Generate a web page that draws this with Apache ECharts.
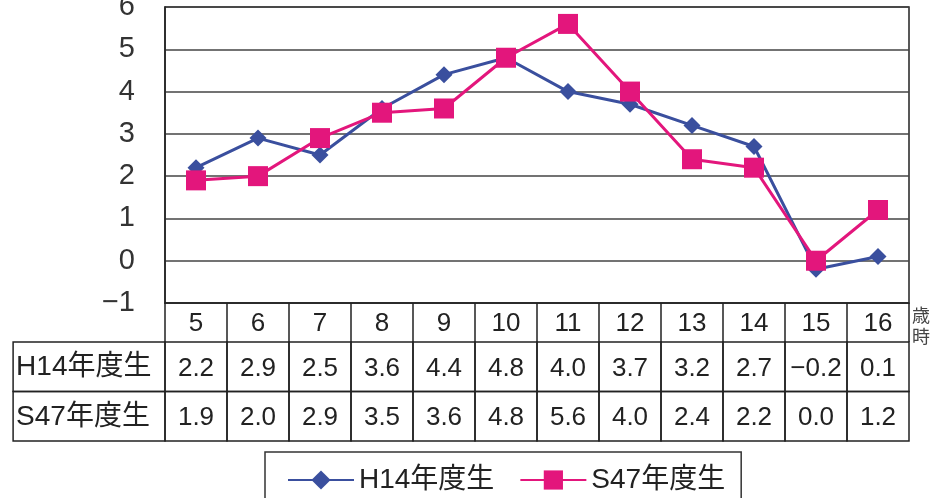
<!DOCTYPE html>
<html>
<head>
<meta charset="utf-8">
<script src="https://cdn.jsdelivr.net/npm/echarts@6/dist/echarts.min.js"></script>
<style>html,body{margin:0;padding:0;background:#fff;}#c{width:930px;height:498px;}</style>
</head>
<body>
<div id="c"></div>
<script>
// ---- data ----
var categories = ['5','6','7','8','9','10','11','12','13','14','15','16'];
var seriesNames = ['H14年度生','S47年度生'];
var h14 = [2.2, 2.9, 2.5, 3.6, 4.4, 4.8, 4.0, 3.7, 3.2, 2.7, -0.2, 0.1];
var s47 = [1.9, 2.0, 2.9, 3.5, 3.6, 4.8, 5.6, 4.0, 2.4, 2.2, 0.0, 1.2];
var yTicks = [-1, 0, 1, 2, 3, 4, 5, 6];
var unitLabel = '歳\n時';

// ---- style ----
var FONT = "'Liberation Sans', Arial, 'Noto Sans CJK JP', sans-serif";
var BLUE = '#3a4f9e';
var PINK = '#e3167c';
var INK = '#222';
var HEAD_COLS = 2.45; // width of row-header column relative to a data column

function fmt(v) { return v.toFixed(1).replace('-', '−'); }

var tableData = [];
[h14, s47].forEach(function (arr, r) {
  arr.forEach(function (v, i) { tableData.push([i, r, v]); });
});

var chart = echarts.init(document.getElementById('c'), null, {renderer: 'canvas'});
chart.setOption({
  animation: false,
  backgroundColor: '#fff',
  textStyle: {fontFamily: FONT},
  grid: [
    {left: 165, right: 21, top: 7, bottom: 195, outerBoundsMode: 'none', containLabel: false,
     show: true, borderColor: INK, borderWidth: 1.5, backgroundColor: 'transparent'},
    {left: 165, right: 21, top: 342, height: 99, outerBoundsMode: 'none', containLabel: false}
  ],
  xAxis: [
    {
      type: 'category', gridIndex: 0, data: categories, boundaryGap: true,
      position: 'bottom',
      axisLine: {onZero: false, lineStyle: {color: INK, width: 1.5}},
      axisTick: {show: true, length: 39, lineStyle: {color: INK, width: 1.5}},
      axisLabel: {fontSize: 26, color: INK, margin: 8, fontFamily: FONT},
      splitLine: {show: false},
      name: unitLabel, nameLocation: 'end', nameGap: 3,
      nameTextStyle: {fontSize: 18, lineHeight: 21, color: '#444', align: 'left', verticalAlign: 'top', padding: [2, 0, 0, 0], fontFamily: "'Noto Sans CJK JP', sans-serif"}
    },
    {
      type: 'category', gridIndex: 1, data: categories, boundaryGap: true,
      axisLine: {show: false}, axisTick: {show: false}, axisLabel: {show: false}, splitLine: {show: false}
    }
  ],
  yAxis: [
    {
      type: 'value', gridIndex: 0, min: yTicks[0], max: yTicks[yTicks.length - 1], interval: 1,
      axisLine: {show: true, lineStyle: {color: INK, width: 1.5}},
      axisTick: {show: false},
      axisLabel: {fontSize: 29, color: '#333', margin: 30, fontFamily: FONT,
        formatter: function (v) { return String(v).replace('-', '−'); }},
      splitLine: {show: true, lineStyle: {color: '#444', width: 1.5}}
    },
    {
      type: 'category', gridIndex: 1, data: seriesNames, inverse: true,
      axisLine: {show: false}, axisTick: {show: false}, axisLabel: {show: false}, splitLine: {show: false}
    }
  ],
  legend: {
    data: seriesNames,
    left: 265, top: 452,
    padding: [14, 16, 14, 22],
    itemWidth: 66, itemHeight: 24, itemGap: 25,
    borderColor: '#333', borderWidth: 1.5,
    textStyle: {fontSize: 28, color: INK, fontFamily: FONT}
  },
  series: [
    {
      name: seriesNames[0], type: 'line', xAxisIndex: 0, yAxisIndex: 0, data: h14,
      symbol: 'diamond', symbolSize: 17,
      lineStyle: {color: BLUE, width: 3}, itemStyle: {color: BLUE}, z: 3
    },
    {
      name: seriesNames[1], type: 'line', xAxisIndex: 0, yAxisIndex: 0, data: s47,
      symbol: 'rect', symbolSize: 20,
      lineStyle: {color: PINK, width: 3}, itemStyle: {color: PINK}, z: 4
    },
    {
      type: 'custom', xAxisIndex: 1, yAxisIndex: 1, data: tableData,
      encode: {x: 0, y: 1}, silent: true,
      renderItem: function (params, api) {
        var i = api.value(0), r = api.value(1), v = api.value(2);
        var c = api.coord([i, r]);
        var sz = api.size([1, 1]);
        var w = sz[0], h = sz[1];
        var children = [
          {type: 'rect', shape: {x: c[0] - w / 2, y: c[1] - h / 2, width: w, height: h},
           style: {fill: 'none', stroke: INK, lineWidth: 1.5}},
          {type: 'text', style: {text: fmt(v), x: c[0], y: c[1] + 2, textAlign: 'center', textVerticalAlign: 'middle',
            fontSize: 26, fontFamily: FONT, fill: INK}}
        ];
        if (i === 0) {
          var hw = w * HEAD_COLS;
          var x0 = c[0] - w / 2 - hw;
          children.push(
            {type: 'rect', shape: {x: x0, y: c[1] - h / 2, width: hw, height: h},
             style: {fill: 'none', stroke: INK, lineWidth: 1.5}},
            {type: 'text', style: {text: seriesNames[r], x: x0 + 3, y: c[1] + 1, textAlign: 'left', textVerticalAlign: 'middle',
              fontSize: 28, fontFamily: FONT, fill: INK}}
          );
        }
        return {type: 'group', children: children};
      }
    }
  ]
});
</script>
</body>
</html>
